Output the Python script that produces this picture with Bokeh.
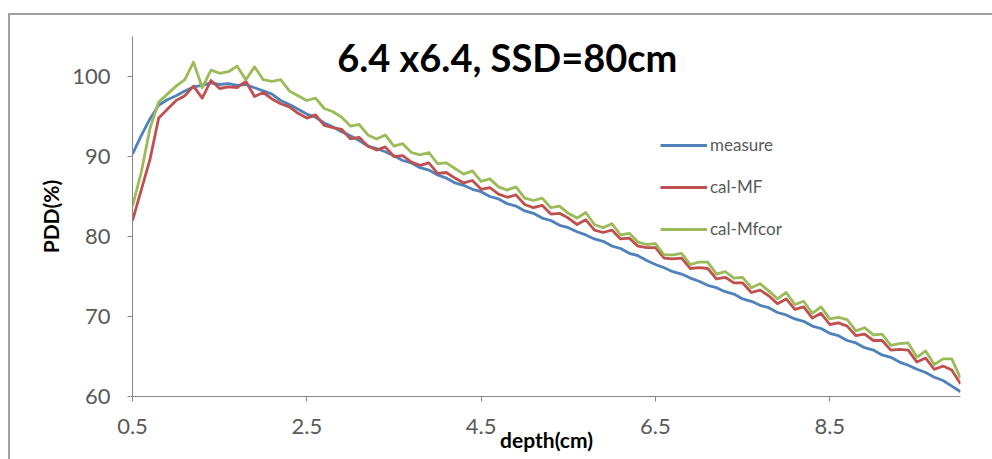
from bokeh.plotting import figure
from bokeh.models import Legend, LegendItem, Label, FixedTicker, Range1d
from bokeh.embed import file_html
from bokeh.resources import INLINE

depth = [0.5, 0.6, 0.7, 0.8, 0.9, 1.0, 1.1, 1.2, 1.3, 1.4, 1.5, 1.6, 1.7, 1.8, 1.9,
         2.0, 2.1, 2.2, 2.3, 2.4, 2.5, 2.6, 2.7, 2.8, 2.9, 3.0, 3.1, 3.2, 3.3, 3.4,
         3.5, 3.6, 3.7, 3.8, 3.9, 4.0, 4.1, 4.2, 4.3, 4.4, 4.5, 4.6, 4.7, 4.8, 4.9,
         5.0, 5.1, 5.2, 5.3, 5.4, 5.5, 5.6, 5.7, 5.8, 5.9, 6.0, 6.1, 6.2, 6.3, 6.4,
         6.5, 6.6, 6.7, 6.8, 6.9, 7.0, 7.1, 7.2, 7.3, 7.4, 7.5, 7.6, 7.7, 7.8, 7.9,
         8.0, 8.1, 8.2, 8.3, 8.4, 8.5, 8.6, 8.7, 8.8, 8.9, 9.0, 9.1, 9.2, 9.3, 9.4,
         9.5, 9.6, 9.7, 9.8, 9.9, 10.0]

measure = [90.3, 92.6, 94.7, 96.4, 97.1, 97.6, 98.2, 98.7, 98.9, 99.2, 99.0, 99.1, 98.9, 99.0, 98.6,
           98.2, 97.8, 97.0, 96.5, 95.9, 95.3, 94.9, 94.2, 93.7, 93.1, 92.6, 92.0, 91.3, 91.0, 90.6,
           90.1, 89.5, 89.2, 88.6, 88.3, 87.7, 87.3, 86.7, 86.4, 85.9, 85.6, 85.0, 84.7, 84.1, 83.8,
           83.2, 82.9, 82.3, 82.0, 81.4, 81.1, 80.6, 80.2, 79.7, 79.4, 78.8, 78.5, 77.9, 77.6, 77.0,
           76.5, 76.1, 75.6, 75.3, 74.8, 74.4, 73.9, 73.6, 73.1, 72.8, 72.2, 71.9, 71.4, 71.1, 70.5,
           70.2, 69.7, 69.4, 68.8, 68.5, 67.9, 67.6, 67.0, 66.7, 66.1, 65.8, 65.2, 64.9, 64.3, 63.9,
           63.4, 63.0, 62.4, 62.0, 61.3, 60.6]

cal_mf = [82.0, 85.8, 89.6, 94.8, 95.9, 97.0, 97.6, 98.8, 97.3, 99.5, 98.5, 98.7, 98.6, 99.4, 97.5,
          98.0, 97.2, 96.6, 96.2, 95.4, 94.8, 95.2, 93.9, 93.6, 93.4, 92.2, 92.4, 91.3, 90.8, 91.2,
          90.0, 90.1, 89.3, 88.9, 89.2, 87.9, 88.0, 87.3, 86.7, 87.0, 85.9, 86.1, 85.3, 84.9, 85.2,
          84.0, 83.6, 83.9, 82.8, 82.9, 82.3, 81.5, 82.1, 80.8, 80.5, 80.8, 79.7, 79.8, 78.8, 78.6,
          78.6, 77.3, 77.2, 77.3, 76.0, 76.1, 76.0, 74.7, 74.9, 74.2, 74.2, 73.0, 73.3, 72.6, 71.6,
          72.2, 70.9, 71.2, 69.8, 70.4, 69.0, 69.2, 68.8, 67.6, 67.8, 67.0, 67.0, 65.8, 65.9, 65.8,
          64.3, 64.8, 63.4, 63.8, 63.3, 61.6]

cal_mfcor = [83.8, 88.0, 93.5, 96.8, 97.8, 98.8, 99.6, 101.8, 98.6, 100.8, 100.4, 100.6, 101.3, 99.6, 101.2,
             99.6, 99.4, 99.6, 98.2, 97.6, 97.0, 97.3, 96.0, 95.6, 94.9, 93.8, 94.0, 92.7, 92.2, 92.7,
             91.3, 91.6, 90.5, 90.2, 90.5, 89.1, 89.2, 88.5, 87.8, 88.2, 86.9, 87.2, 86.2, 85.8, 86.2,
             84.8, 84.5, 84.8, 83.6, 83.8, 82.9, 82.3, 83.0, 81.5, 81.1, 81.6, 80.2, 80.4, 79.3, 79.0,
             79.1, 77.7, 77.7, 77.9, 76.5, 76.8, 76.8, 75.3, 75.6, 74.8, 74.9, 73.6, 74.1, 73.2, 72.2,
             73.0, 71.5, 71.9, 70.4, 71.2, 69.7, 69.9, 69.6, 68.2, 68.6, 67.7, 67.8, 66.4, 66.6, 66.7,
             64.9, 65.7, 64.0, 64.7, 64.7, 62.3]

series_names = ["measure", "cal-MF", "cal-Mfcor"]
x_ticks = [0.5, 2.5, 4.5, 6.5, 8.5]
y_ticks = [60, 70, 80, 90, 100]
title_text = "6.4 x6.4, SSD=80cm"
x_label = "depth(cm)"
y_label = "PDD(%)"

colors = ["#4F81BD", "#C0504D", "#9BBB59"]
FONT = "Lato"
TICK_COLOR = "#595959"
BORDER = "#a0a0a0"

p = figure(width=992, height=459, output_backend="svg", toolbar_location=None,
           x_range=Range1d(0.5, 10.0), y_range=Range1d(60, 105),
           min_border_left=132, min_border_right=32, min_border_top=36, min_border_bottom=63)
p.background_fill_color = "white"
p.border_fill_alpha = 0
p.outline_line_color = None
p.xgrid.grid_line_color = None
p.ygrid.grid_line_color = None
p.styles = {
    "background": (f"linear-gradient({BORDER},{BORDER}) 8px 13px / 984px 2px no-repeat, "
                   f"linear-gradient({BORDER},{BORDER}) 8px 13px / 2px 446px no-repeat, white"),
}

renderers = []
for ys, c in zip([measure, cal_mf, cal_mfcor], colors):
    r = p.line(depth, ys, line_color=c, line_width=2.8, line_join="round")
    renderers.append(r)

for ax in (p.xaxis[0], p.yaxis[0]):
    ax.axis_line_color = "#868686"
    ax.major_tick_line_color = "#868686"
    ax.minor_tick_line_color = None
    ax.major_tick_in = 0
    ax.major_tick_out = 5
    ax.major_label_text_font = FONT
    ax.major_label_text_font_size = "22px"
    ax.major_label_text_color = TICK_COLOR
    ax.axis_label_text_font = FONT
    ax.axis_label_text_font_style = "bold"
    ax.axis_label_text_font_size = "21px"
    ax.axis_label_text_color = "black"

p.xaxis.ticker = FixedTicker(ticks=x_ticks)
p.yaxis.ticker = FixedTicker(ticks=y_ticks)
p.xaxis.axis_label = x_label
p.yaxis.axis_label = y_label
p.xaxis.major_label_standoff = 17
p.xaxis.axis_label_standoff = -10
p.yaxis.major_label_standoff = 17
p.yaxis.axis_label_standoff = 6

legend = Legend(items=[LegendItem(label=n, renderers=[r]) for n, r in zip(series_names, renderers)],
                location=(528, 157), orientation="vertical",
                glyph_width=47, glyph_height=20, label_height=20, spacing=21,
                label_standoff=3, padding=0, margin=0,
                border_line_color=None, background_fill_alpha=0,
                label_text_font=FONT, label_text_font_size="17px", label_text_color=TICK_COLOR)
p.add_layout(legend)

p.add_layout(Label(x=4.8, y=102.5, text=title_text, text_font=FONT, text_font_style="bold",
                   text_font_size="38px", text_color="black", text_align="center",
                   text_baseline="middle"))

open("out.html", "w").write(file_html(p, INLINE))
